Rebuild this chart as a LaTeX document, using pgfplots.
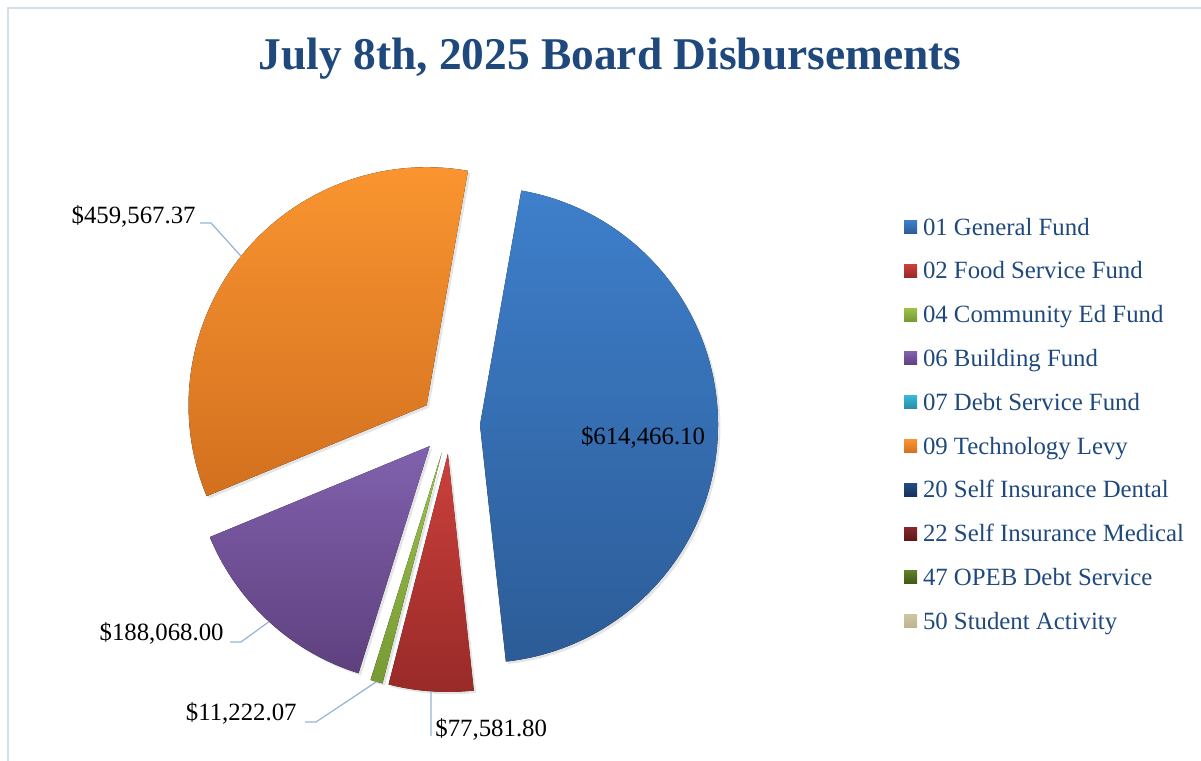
\documentclass[border=0pt]{standalone}
\usepackage{pgfplots}
\pgfplotsset{compat=1.18}
\usepackage{pgfplotstable}
\usepackage{fontspec}
\setmainfont{Liberation Serif}

\definecolor{titleblue}{HTML}{1F497D}
\definecolor{frame}{HTML}{D6E0EC}
\definecolor{leader}{HTML}{95B3D7}
% slice / legend colours: top and bottom of each gradient, one pair per row
\definecolor{top0}{HTML}{3E7FCB}\definecolor{bot0}{HTML}{2C5C97}
\definecolor{top1}{HTML}{CB403C}\definecolor{bot1}{HTML}{982A28}
\definecolor{top2}{HTML}{9CC24C}\definecolor{bot2}{HTML}{779A33}
\definecolor{top3}{HTML}{8061AD}\definecolor{bot3}{HTML}{5F407E}
\definecolor{top4}{HTML}{38B8D8}\definecolor{bot4}{HTML}{2A8CA6}
\definecolor{top5}{HTML}{FA9530}\definecolor{bot5}{HTML}{D2701F}
\definecolor{top6}{HTML}{244D84}\definecolor{bot6}{HTML}{173058}
\definecolor{top7}{HTML}{86292A}\definecolor{bot7}{HTML}{5E1818}
\definecolor{top8}{HTML}{5F7F29}\definecolor{bot8}{HTML}{3F5719}
\definecolor{top9}{HTML}{CDC6A4}\definecolor{bot9}{HTML}{BDB48C}

\pgfplotstableread[col sep=comma]{
fund,value
01 General Fund,614466.10
02 Food Service Fund,77581.80
04 Community Ed Fund,11222.07
06 Building Fund,188068.00
07 Debt Service Fund,0
09 Technology Levy,459567.37
20 Self Insurance Dental,0
22 Self Insurance Medical,0
47 OPEB Debt Service,0
50 Student Activity,0
}\funds

% pie geometry in pixel units of the picture (y measured upwards, 1px = 0.5pt)
\def\pcx{450}\def\pcy{337}   % centre
\def\pexp{30}                % explosion
\def\prad{238}               % radius
\def\pstart{80}              % first slice starts 10 deg right of 12 o'clock
\edef\pradpt{\fpeval{\prad/2}pt}

\pgfplotstablegetrowsof{\funds}
\pgfmathtruncatemacro\nrows{\pgfplotsretval-1}
\def\total{0}
\pgfplotsforeachungrouped \i in {0,...,\nrows}{%
  \pgfplotstablegetelem{\i}{value}\of\funds
  \xdef\total{\fpeval{\total+\pgfplotsretval}}%
}
\def\cum{0}
\pgfplotsforeachungrouped \i in {0,...,\nrows}{%
  \pgfplotstablegetelem{\i}{value}\of\funds
  \edef\val{\pgfplotsretval}%
  \edef\aone{\fpeval{\pstart-360*\cum/\total}}%
  \edef\atwo{\fpeval{\pstart-360*(\cum+\val)/\total}}%
  \edef\amid{\fpeval{(\aone+\atwo)/2}}%
  \expandafter\xdef\csname on\i\endcsname{\fpeval{\val>0}}%
  \expandafter\xdef\csname aa\i\endcsname{\fpeval{round(\aone,4)}}%
  \expandafter\xdef\csname ab\i\endcsname{\fpeval{round(\atwo,4)}}%
  \expandafter\xdef\csname sx\i\endcsname{\fpeval{round(\pcx+\pexp*cosd(\amid),3)}}%
  \expandafter\xdef\csname sy\i\endcsname{\fpeval{round(\pcy+\pexp*sind(\amid),3)}}%
  \expandafter\xdef\csname ox\i\endcsname{\fpeval{round(\pcx+(\pexp+\prad)*cosd(\amid),3)}}%
  \expandafter\xdef\csname oy\i\endcsname{\fpeval{round(\pcy+(\pexp+\prad)*sind(\amid),3)}}%
  \xdef\cum{\fpeval{\cum+\val}}%
}

\begin{document}
\begin{tikzpicture}
\begin{axis}[
    scale only axis, width=600.5pt, height=380.5pt,
    xmin=0, xmax=1201, ymin=0, ymax=761,
    hide axis, clip=false,
    legend cell align=left,
    legend style={at={(0.7527,0.7148)}, anchor=north west,
        draw=none, fill=none, inner sep=0pt, outer sep=0pt,
        row sep=9.9pt, column sep=3pt,
        font=\fontsize{12.4}{14}\selectfont, text=titleblue,
        nodes={inner sep=0pt, text height=9pt, text depth=3pt, anchor=base west}},
]
    % chart frame
    \draw[frame, line width=0.8pt] (axis cs:8,0) -- (axis cs:8,753) -- (axis cs:1201,753);

    % title
    \node[anchor=base, text=titleblue, font=\fontsize{22.7}{28}\selectfont\bfseries]
        at (axis cs:610,691) {July 8th, 2025 Board Disbursements};

    % slices
    \pgfplotsinvokeforeach{0,...,9}{%
      \ifnum\csname on#1\endcsname=1
      \fill[black, opacity=0.10, xshift=1.2pt, yshift=-1.2pt]
        (axis cs:\csname sx#1\endcsname,\csname sy#1\endcsname)
        -- ++(\csname aa#1\endcsname:\pradpt)
        arc[start angle=\csname aa#1\endcsname, end angle=\csname ab#1\endcsname, radius=\pradpt]
        -- cycle;
      \fill[top color=top#1, bottom color=bot#1]
        (axis cs:\csname sx#1\endcsname,\csname sy#1\endcsname)
        -- ++(\csname aa#1\endcsname:\pradpt)
        arc[start angle=\csname aa#1\endcsname, end angle=\csname ab#1\endcsname, radius=\pradpt]
        -- cycle;
      \fi
    }

    % legend
    \pgfplotsinvokeforeach{0,...,9}{%
      \addlegendimage{legend image code/.code={%
        \path[draw=none, top color=top#1, bottom color=bot#1] (0pt,0.8pt) rectangle (6.5pt,7.3pt);}}
      \pgfplotstablegetelem{#1}{fund}\of\funds
      \addlegendentryexpanded{\pgfplotsretval}
    }

    % leader lines
    \draw[leader, line width=0.6pt] (axis cs:\csname ox5\endcsname,\csname oy5\endcsname)
        -- (axis cs:211,538) -- (axis cs:200,538);
    \draw[leader, line width=0.6pt] (axis cs:\csname ox3\endcsname,\csname oy3\endcsname)
        -- (axis cs:241,119) -- (axis cs:230,119);
    \draw[leader, line width=0.6pt] (axis cs:\csname ox2\endcsname,\csname oy2\endcsname)
        -- (axis cs:316,39) -- (axis cs:305,39);
    \draw[leader, line width=0.6pt] (axis cs:\csname ox1\endcsname,\csname oy1\endcsname)
        -- (axis cs:431,25);

    % data labels
    \begin{scope}[every node/.style={font=\fontsize{12.4}{14}\selectfont, inner sep=0pt}]
    \node[anchor=base] at (axis cs:643,316) {\$614,466.10};
    \node[anchor=base east] at (axis cs:196,537) {\$459,567.37};
    \node[anchor=base east] at (axis cs:224,120) {\$188,068.00};
    \node[anchor=base east] at (axis cs:297,40) {\$11,222.07};
    \node[anchor=base west] at (axis cs:435,25) {\$77,581.80};
    \end{scope}
\end{axis}
\pgfresetboundingbox
\path (current axis.south west) rectangle (current axis.north east);
\end{tikzpicture}
\end{document}
